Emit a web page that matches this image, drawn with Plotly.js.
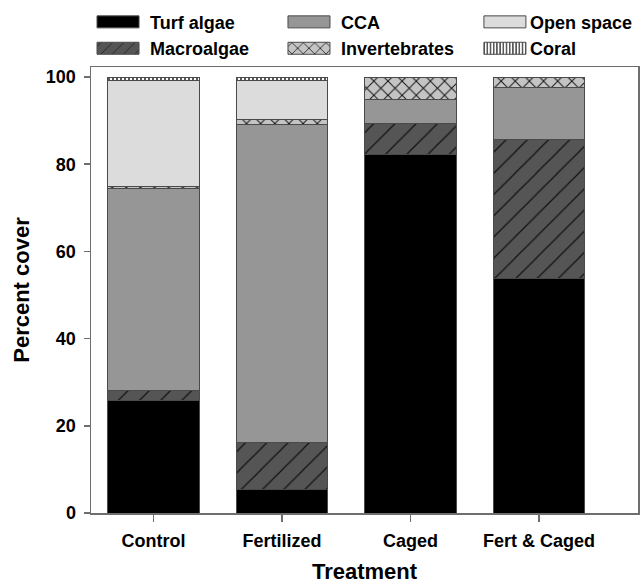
<!DOCTYPE html>
<html>
<head>
<meta charset="utf-8">
<script src="https://cdn.plot.ly/plotly-3.0.1.min.js"></script>
<style>
  html, body { margin: 0; padding: 0; background: #ffffff; }
  #chart { width: 641px; height: 584px; }
</style>
</head>
<body>
<div id="chart"></div>
<script>
// Categories (treatments)
const treatments = ["Control", "Fertilized", "Caged", "Fert & Caged"];

// Percent cover per group (stacked bottom to top)
const turfAlgae     = [25.8, 5.3, 82.3, 53.8];
const macroalgae    = [2.4, 10.8, 7.1, 31.9];
const cca           = [46.2, 73.1, 5.5, 11.9];
const invertebrates = [0.6, 1.1, 5.1, 2.4];
const openSpace     = [24.3, 9.0, 0.0, 0.0];
const coral         = [0.7, 0.7, 0.0, 0.0];

// Y-axis ticks
const yTicks = [0, 20, 40, 60, 80, 100];

const FONT = "Liberation Sans, Arial, sans-serif";
const outline = { color: "#4a4a4a", width: 1 };

function barTrace(name, values, color, legendId, pattern) {
  const marker = { color: color, line: outline };
  if (pattern) marker.pattern = pattern;
  return {
    type: "bar",
    name: name,
    x: treatments,
    y: values,
    marker: marker,
    legend: legendId,
    hoverinfo: "x+y+name"
  };
}

const data = [
  barTrace("Turf algae", turfAlgae, "#000000", "legend"),
  barTrace("Macroalgae", macroalgae, "#555555", "legend",
    { shape: "/", fgcolor: "#111111", bgcolor: "#555555", size: 15, solidity: 0.08 }),
  barTrace("CCA", cca, "#969696", "legend2"),
  barTrace("Invertebrates", invertebrates, "#bdbdbd", "legend2",
    { shape: "x", fgcolor: "#111111", bgcolor: "#c4c4c4", size: 10, solidity: 0.18 }),
  barTrace("Open space", openSpace, "#dcdcdc", "legend3"),
  barTrace("Coral", coral, "#ffffff", "legend3",
    { shape: "|", fgcolor: "#111111", bgcolor: "#ffffff", size: 4, solidity: 0.35 })
];

function legendAt(x, itemwidth) {
  return {
    orientation: "v",
    x: x,
    xanchor: "left",
    y: 1.142,
    yanchor: "top",
    traceorder: "normal",
    itemwidth: itemwidth,
    font: { family: FONT, size: 18, color: "#000000", weight: "bold" },
    bgcolor: "rgba(0,0,0,0)",
    itemclick: false,
    itemdoubleclick: false
  };
}

const layout = {
  width: 641,
  height: 584,
  paper_bgcolor: "#ffffff",
  plot_bgcolor: "#ffffff",
  margin: { l: 91, r: 3, t: 67, b: 71, autoexpand: false },
  barmode: "stack",
  bargap: 0.29,
  font: { family: FONT, size: 18, color: "#000000", weight: "bold" },
  showlegend: true,
  legend: legendAt(-0.0091, 54),
  legend2: legendAt(0.340, 54),
  legend3: legendAt(0.711, 40),
  xaxis: {
    type: "category",
    range: [-0.486, 3.771],
    showline: true,
    linecolor: "#6e6e6e",
    linewidth: 1.5,
    mirror: true,
    ticks: "outside",
    ticklen: 7,
    tickwidth: 1.5,
    tickcolor: "#6e6e6e",
    ticklabelstandoff: 4,
    showgrid: false,
    zeroline: false,
    tickfont: { family: FONT, size: 18, weight: "bold" },
    title: { text: "Treatment", font: { family: FONT, size: 22, weight: "bold" }, standoff: 21 }
  },
  yaxis: {
    range: [0, 102.3],
    tickvals: yTicks,
    showline: true,
    linecolor: "#6e6e6e",
    linewidth: 1.5,
    mirror: true,
    ticks: "outside",
    ticklen: 6,
    tickwidth: 1.5,
    tickcolor: "#6e6e6e",
    ticklabelstandoff: 4,
    showgrid: false,
    zeroline: false,
    tickfont: { family: FONT, size: 18, weight: "bold" },
    title: { text: "Percent cover", font: { family: FONT, size: 22, weight: "bold" }, standoff: 10 }
  }
};

Plotly.newPlot("chart", data, layout, { displayModeBar: false, staticPlot: true }).then(function () {
  // widen legend swatches to the wide rectangles of the reference
  document.querySelectorAll(".legendpoints path").forEach(function (p) {
    p.setAttribute("d", "M21,6H-21V-6H21Z");
  });
});
</script>
</body>
</html>
